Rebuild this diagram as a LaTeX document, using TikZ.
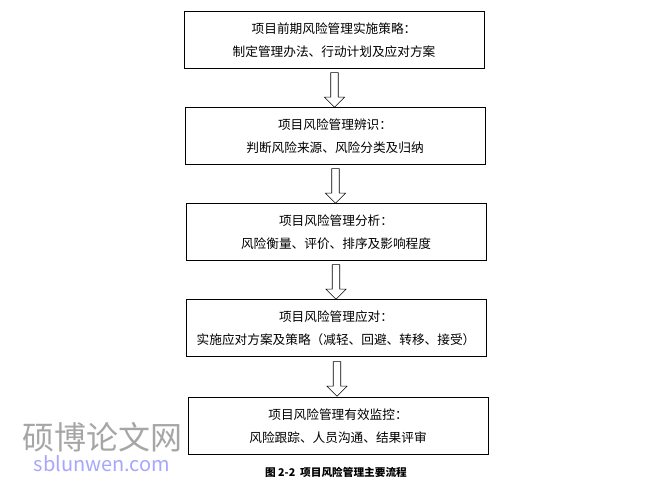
\documentclass[tikz,border=0pt]{standalone}
\usepackage{fontspec}
\setmainfont{Noto Sans CJK SC}
\usetikzlibrary{positioning,shapes.arrows}

\begin{document}
\begin{tikzpicture}[x=0.75pt,y=-0.75pt]
       \tikzstyle{stepbox} = [rectangle, draw=black, thin, minimum width=225pt, minimum height=43pt, align=center, font=\fontsize{9.5}{17}\selectfont];
       \tikzstyle{hollow} = [single arrow, draw=black, fill=white, rotate=-90, minimum height=26pt, minimum width=15pt, single arrow head extend=3pt, inner sep=1.6pt];

       \useasboundingbox (0,0) rectangle (663,490);

       \node[stepbox] (plan) at (334,40) {项目前期风险管理实施策略：\\制定管理办法、行动计划及应对方案};
       \node[stepbox] (ident) at (335,136) {项目风险管理辨识：\\判断风险来源、风险分类及归纳};
       \node[stepbox] (anal) at (336,232) {项目风险管理分析：\\风险衡量、评价、排序及影响程度};
       \node[stepbox] (resp) at (336,328) {项目风险管理应对：\\实施应对方案及策略（减轻、回避、转移、接受）};
       \node[stepbox] (mon) at (338,426) {项目风险管理有效监控：\\风险跟踪、人员沟通、结果评审};

       % hollow arrows between the steps
       \path (plan) -- node[hollow] {} (ident);
       \path (ident) -- node[hollow] {} (anal);
       \path (anal) -- node[hollow] {} (resp);
       \path (resp) -- node[hollow] {} (mon);

       \node[font=\bfseries\fontsize{8}{10}\selectfont] (cap) at (336,472) {图 2-2\ \ 项目风险管理主要流程};

       % watermark
       \node[text=black!35, font=\fontsize{24}{26}\selectfont] (wm) at (102,437) {硕博论文网};
       \node[text=blue!35, font=\fontsize{15}{16}\selectfont, below=-4pt of wm] (url) {sblunwen.com};
\end{tikzpicture}
\end{document}
